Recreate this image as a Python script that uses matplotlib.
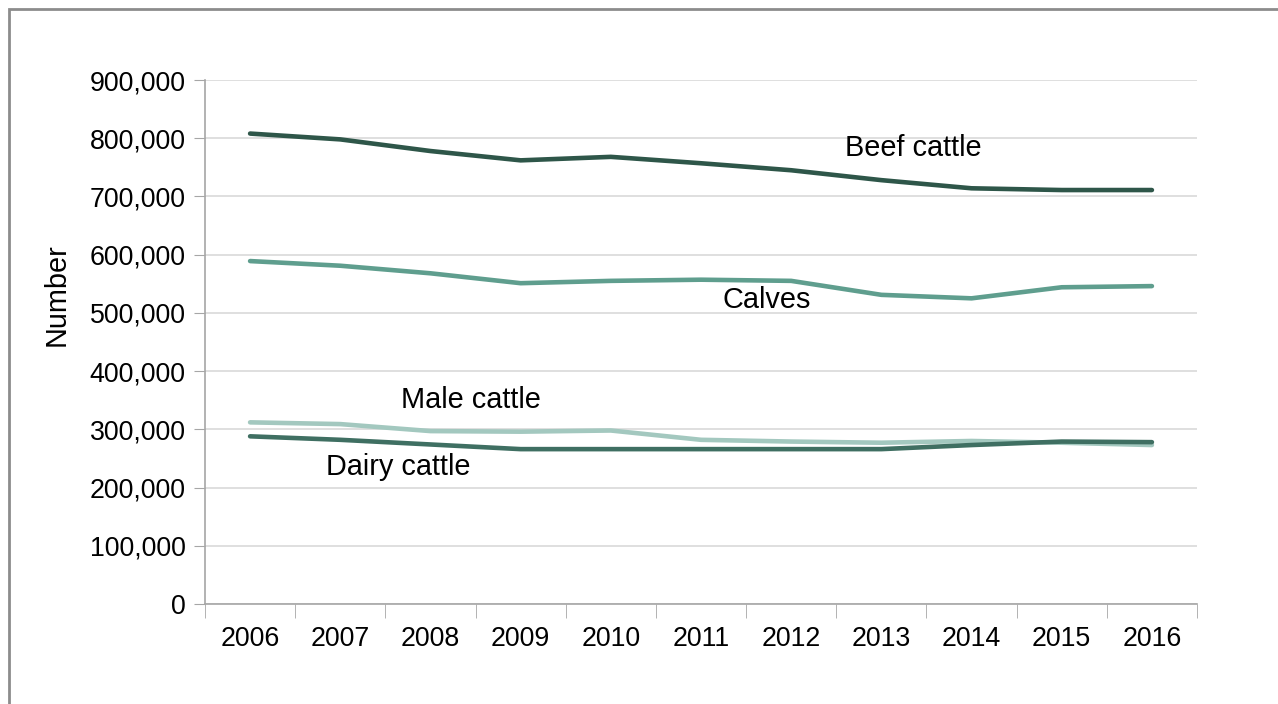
import matplotlib.pyplot as plt
from matplotlib.patches import Rectangle
from matplotlib.ticker import FuncFormatter

plt.rcParams['font.family'] = ['Liberation Sans', 'DejaVu Sans']

# Data
years = ['2006', '2007', '2008', '2009', '2010', '2011', '2012', '2013', '2014', '2015', '2016']
beef = [808000, 798000, 778000, 762000, 768000, 757000, 745000, 728000, 714000, 711000, 711000]
calves = [589000, 581000, 568000, 551000, 555000, 557000, 555000, 531000, 525000, 544000, 546000]
male = [312000, 309000, 297000, 296000, 298000, 282000, 279000, 277000, 280000, 277000, 273000]
dairy = [288000, 282000, 274000, 266000, 266000, 266000, 266000, 266000, 273000, 279000, 278000]

fig = plt.figure(figsize=(12.78, 7.04), dpi=100)
ax = fig.add_axes([205 / 1278, 1 - 604 / 704, 992 / 1278, 524 / 704])

x = list(range(len(years)))
lw = 3.3
ax.plot(x, male, color='#a3c8bf', linewidth=lw, solid_capstyle='round', zorder=3)
ax.plot(x, dairy, color='#3f6f62', linewidth=lw, solid_capstyle='round', zorder=3)
ax.plot(x, calves, color='#5f9e8e', linewidth=lw, solid_capstyle='round', zorder=3)
ax.plot(x, beef, color='#2e5649', linewidth=lw, solid_capstyle='round', zorder=3)

# Series labels
lfs = 20.8
ax.text(7.35, 783000, 'Beef cattle', fontsize=lfs, ha='center', va='center')
ax.text(5.73, 522000, 'Calves', fontsize=lfs, ha='center', va='center')
ax.text(2.45, 350000, 'Male cattle', fontsize=lfs, ha='center', va='center')
ax.text(1.64, 235000, 'Dairy cattle', fontsize=lfs, ha='center', va='center')

fs = 19.3
ax.set_xlim(-0.5, len(years) - 0.5)
ax.set_ylim(0, 900000)
ax.set_yticks(range(0, 900001, 100000))
ax.yaxis.set_major_formatter(FuncFormatter(lambda v, p: f'{int(v):,}'))
ax.set_xticks(x)
ax.set_xticklabels(years)
ax.set_xticks([i - 0.5 for i in range(len(years) + 1)], minor=True)
ax.tick_params(axis='x', which='major', length=0, labelsize=fs, pad=16)
ax.tick_params(axis='x', which='minor', length=10, color='#a6a6a6', direction='out')
ax.tick_params(axis='y', length=8, color='#a6a6a6', labelsize=fs, pad=6)

ax.grid(axis='y', color='#d9d9d9', linewidth=1.2)
ax.set_axisbelow(True)
for s in ['top', 'right']:
    ax.spines[s].set_visible(False)
for s in ['left', 'bottom']:
    ax.spines[s].set_color('#a6a6a6')
    ax.spines[s].set_linewidth(1.2)

fig.text(57 / 1278, 1 - 295 / 704, 'Number', rotation=90, fontsize=lfs, ha='center', va='center')

# Outer frame
fig.patches.append(Rectangle((9 / 1278, -0.05), 1.1, 1 - 9 / 704 + 0.05, transform=fig.transFigure,
                             fill=False, edgecolor='#8c8c8c', linewidth=2))

fig.savefig('out.png', dpi=100)
